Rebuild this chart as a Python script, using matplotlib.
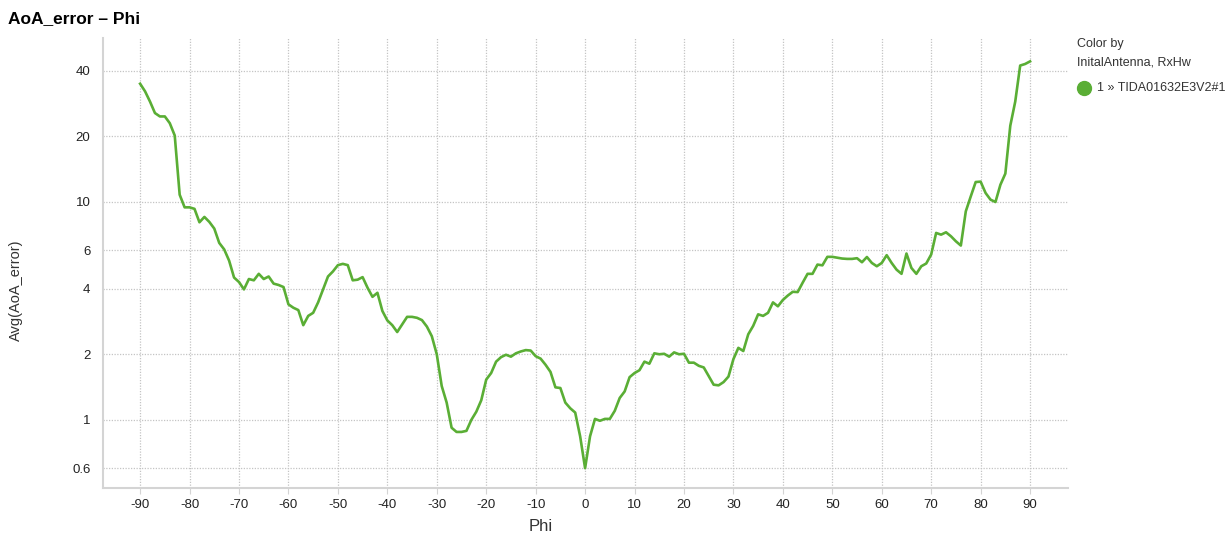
import numpy as np
import matplotlib
matplotlib.use('Agg')
import matplotlib.pyplot as plt
from matplotlib.ticker import FixedLocator, NullLocator

#------------ dados -----------------#
phi = list(range(-90, 91))

aoa_error = [
  34.9, 32.2, 28.9, 25.6, 24.7, 24.7, 23.0, 20.2, 10.8, 9.45,   # -90 .. -81
  9.45, 9.3, 8.07, 8.54, 8.1, 7.55, 6.49, 6.06, 5.38, 4.5,      # -80 .. -71
  4.29, 3.97, 4.43, 4.37, 4.68, 4.43, 4.55, 4.22, 4.16, 4.07,   # -70 .. -61
  3.39, 3.27, 3.19, 2.72, 3.0, 3.1, 3.46, 3.97, 4.55, 4.8,      # -60 .. -51
  5.13, 5.2, 5.13, 4.37, 4.4, 4.52, 4.04, 3.67, 3.83, 3.16,     # -50 .. -41
  2.86, 2.72, 2.53, 2.74, 2.97, 2.97, 2.94, 2.87, 2.68, 2.42,   # -40 .. -31
  2.0, 1.43, 1.20, 0.92, 0.88, 0.88, 0.89, 1.0, 1.09, 1.23,     # -30 .. -21
  1.53, 1.64, 1.85, 1.94, 1.99, 1.95, 2.02, 2.06, 2.09, 2.08,   # -20 .. -11
  1.96, 1.91, 1.79, 1.66, 1.41, 1.40, 1.20, 1.13, 1.08, 0.84,   # -10 .. -1
  0.6,                                                          # 0
  0.84, 1.01, 0.99, 1.01, 1.01, 1.10, 1.26, 1.35, 1.57, 1.64,   # 1 .. 10
  1.69, 1.85, 1.81, 2.02, 2.0, 2.01, 1.95, 2.04, 2.0, 2.01,     # 11 .. 20
  1.83, 1.83, 1.77, 1.74, 1.59, 1.45, 1.44, 1.49, 1.58, 1.90,   # 21 .. 30
  2.14, 2.07, 2.47, 2.70, 3.05, 3.0, 3.10, 3.46, 3.32, 3.55,    # 31 .. 40
  3.72, 3.87, 3.86, 4.26, 4.68, 4.68, 5.16, 5.12, 5.60, 5.60,   # 41 .. 50
  5.55, 5.50, 5.48, 5.48, 5.52, 5.29, 5.59, 5.25, 5.07, 5.25,   # 51 .. 60
  5.70, 5.25, 4.89, 4.68, 5.80, 4.98, 4.68, 5.07, 5.22, 5.74,   # 61 .. 70
  7.21, 7.08, 7.26, 6.96, 6.60, 6.31, 9.06, 10.6, 12.35, 12.4,  # 71 .. 80
  11.0, 10.25, 10.0, 12.0, 13.5, 22.4, 28.9, 42.3, 43.0, 44.2,  # 81 .. 90
]

yticks = [0.6, 1, 2, 4, 6, 10, 20, 40]
ytick_labels = ['0.6', '1', '2', '4', '6', '10', '20', '40']
xticks = list(range(-90, 91, 10))

serie_label = '1 \u00bb TIDA01632E3V2#1'
verde = '#5aae35'
cinza = '#d4d4d4'

plt.rcParams['font.family'] = ['Liberation Sans', 'DejaVu Sans']

#------------ figura -----------------#
fig = plt.figure(figsize=(12.31, 5.35), dpi=100)
ax = fig.add_axes([0.0837, 0.088, 0.784, 0.841])

ax.plot(phi, aoa_error, color=verde, linewidth=1.9, solid_joinstyle='round')

ax.set_yscale('log')
ax.set_ylim(0.487, 56.6)
ax.set_xlim(-97.5, 97.7)
ax.yaxis.set_major_locator(FixedLocator(yticks))
ax.yaxis.set_minor_locator(NullLocator())
ax.set_yticklabels(ytick_labels)
ax.set_xticks(xticks)
ax.set_xticklabels([str(t) for t in xticks])

ax.grid(True, which='major', color='#c4c4c4', linestyle=(0, (1, 1.2)), linewidth=0.9)
ax.set_axisbelow(True)

for s in ['top', 'right']:
  ax.spines[s].set_visible(False)
for s in ['left', 'bottom']:
  ax.spines[s].set_color(cinza)
  ax.spines[s].set_linewidth(1.5)

ax.tick_params(axis='y', length=0, pad=9, labelsize=9.5, labelcolor='#222222')
ax.tick_params(axis='x', length=4, width=0.8, color=cinza, pad=4, labelsize=9.5, labelcolor='#222222')

ax.set_xlabel('Phi', fontsize=12, color='#333333')
ax.xaxis.set_label_coords(0.453, -0.068)
ax.set_ylabel('Avg(AoA_error)', fontsize=10.5, color='#333333')
ax.yaxis.set_label_coords(-0.083, 0.44)

fig.text(0.0065, 0.966, 'AoA_error \u2013 Phi', fontsize=12.5, fontweight='bold', va='center', ha='left')

#------------ legenda -----------------#
fig.text(0.875, 0.917, 'Color by', fontsize=9, color='#333333', va='center')
fig.text(0.875, 0.884, 'InitalAntenna, RxHw', fontsize=9, color='#333333', va='center')
fig.lines.append(plt.Line2D([0.8806], [0.836], marker='o', markersize=10, color=verde,
                            transform=fig.transFigure, linestyle='none'))
fig.text(0.891, 0.836, serie_label, fontsize=9, color='#333333', va='center')

fig.savefig('out.png', dpi=100)
